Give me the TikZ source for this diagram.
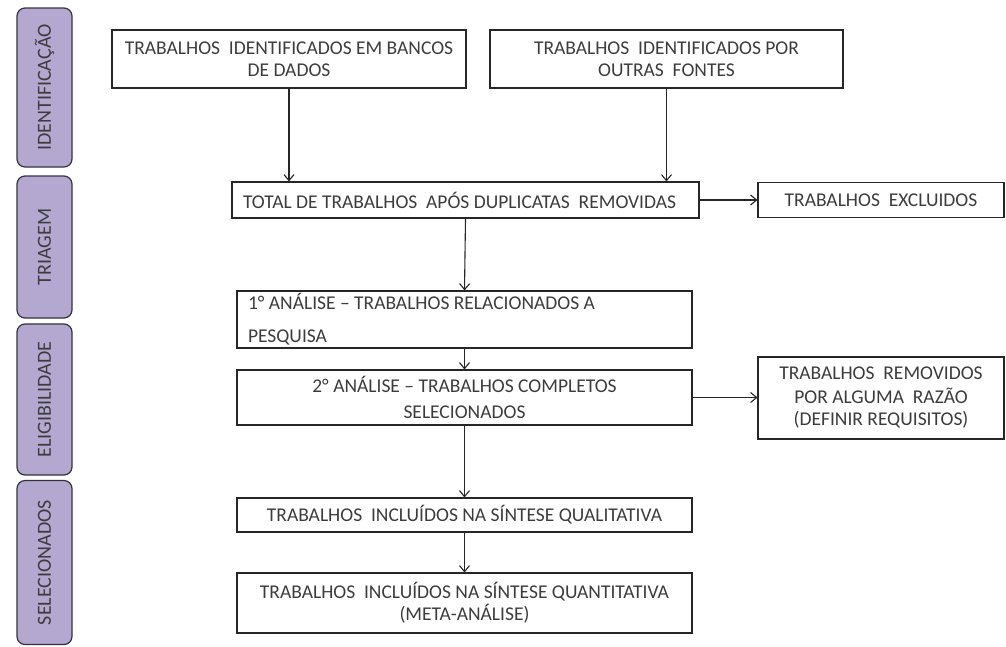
\documentclass[tikz,border=0pt]{standalone}
\usepackage{fontspec}
\setmainfont{Carlito}
\usetikzlibrary{arrows.meta}
\definecolor{txt}{RGB}{60,60,60}
\definecolor{lav}{RGB}{180,168,208}
\definecolor{edgec}{RGB}{50,50,62}
\newcommand{\lft}[1]{\parbox{433pt}{\raggedright #1}}
\begin{document}
\begin{tikzpicture}[x=1pt,y=-1pt,
  box/.style={draw=black!85, line width=1.1pt, inner sep=0pt, font=\fontsize{19.5}{22}\selectfont, text=txt, align=center},
  side/.style={draw=edgec, fill=lav, rounded corners=8pt, line width=1.2pt, minimum height=55pt, inner sep=0pt, rotate=90, font=\fontsize{20}{22}\selectfont, text=txt},
  arr/.style={-{Straight Barb[length=6pt,width=10pt]}, line width=1.1pt, draw=black!85}]
\useasboundingbox (0,0) rectangle (1006,646);
% side labels
\node[side, minimum width=159pt] (s1) at (44.5,87.5) {IDENTIFICAÇÃO};
\node[side, minimum width=142pt] (s2) at (44.5,247) {TRIAGEM};
\node[side, minimum width=151pt] (s3) at (44.5,399.5) {ELIGIBILIDADE};
\node[side, minimum width=164pt] (s4) at (44.5,562.5) {SELECIONADOS};
% boxes
\node[box, minimum width=354pt, minimum height=58pt] (b1) at (289,59) {TRABALHOS\ \ IDENTIFICADOS EM BANCOS\\DE DADOS};
\node[box, minimum width=353pt, minimum height=58pt] (b2) at (666.5,59) {TRABALHOS\ \ IDENTIFICADOS POR\\OUTRAS\ \ FONTES};
\node[box, minimum width=467pt, minimum height=36pt] (b3) at (465.5,200) {\parbox{445pt}{\raggedright TOTAL\ DE TRABALHOS\ \ APÓS DUPLICATAS\ \ REMOVIDAS}};
\node[box, minimum width=246pt, minimum height=35pt] (ex) at (881,200) {TRABALHOS\ \ EXCLUIDOS};
\node[box, minimum width=455pt, minimum height=57pt] (b4) at (464.5,319.5) {\lft{1° ANÁLISE – TRABALHOS RELACIONADOS A\\[11pt]PESQUISA}};
\node[box, minimum width=455pt, minimum height=55pt] (b5) at (464.5,397.5) {2° ANÁLISE – TRABALHOS COMPLETOS\\[4pt]SELECIONADOS};
\node[box, minimum width=246pt, minimum height=82pt] (b6) at (881,398) {TRABALHOS\ \ REMOVIDOS\\[2pt]POR ALGUMA\ \ RAZÃO\\(DEFINIR REQUISITOS)};
\node[box, minimum width=455pt, minimum height=34pt] (b7) at (464.5,515) {TRABALHOS\ \ INCLUÍDOS NA SÍNTESE QUALITATIVA};
\node[box, minimum width=455pt, minimum height=60pt] (b8) at (464.5,603) {TRABALHOS\ \ INCLUÍDOS NA SÍNTESE QUANTITATIVA\\(META-ANÁLISE)};
% connectors
\draw[arr] (b1.south) -- (b1.south |- b3.north);
\draw[arr] (b2.south) -- (b2.south |- b3.north);
\draw[arr] (b3.east) -- (ex.west);
\draw[arr] (b3.south) -- (b4.north);
\draw[arr] (b4.south) -- (b5.north);
\draw[arr] (b5.east) -- (b5.east -| b6.west);
\draw[arr] (b5.south) -- (b7.north);
\draw[arr] (b7.south) -- (b8.north);
\end{tikzpicture}
\end{document}
